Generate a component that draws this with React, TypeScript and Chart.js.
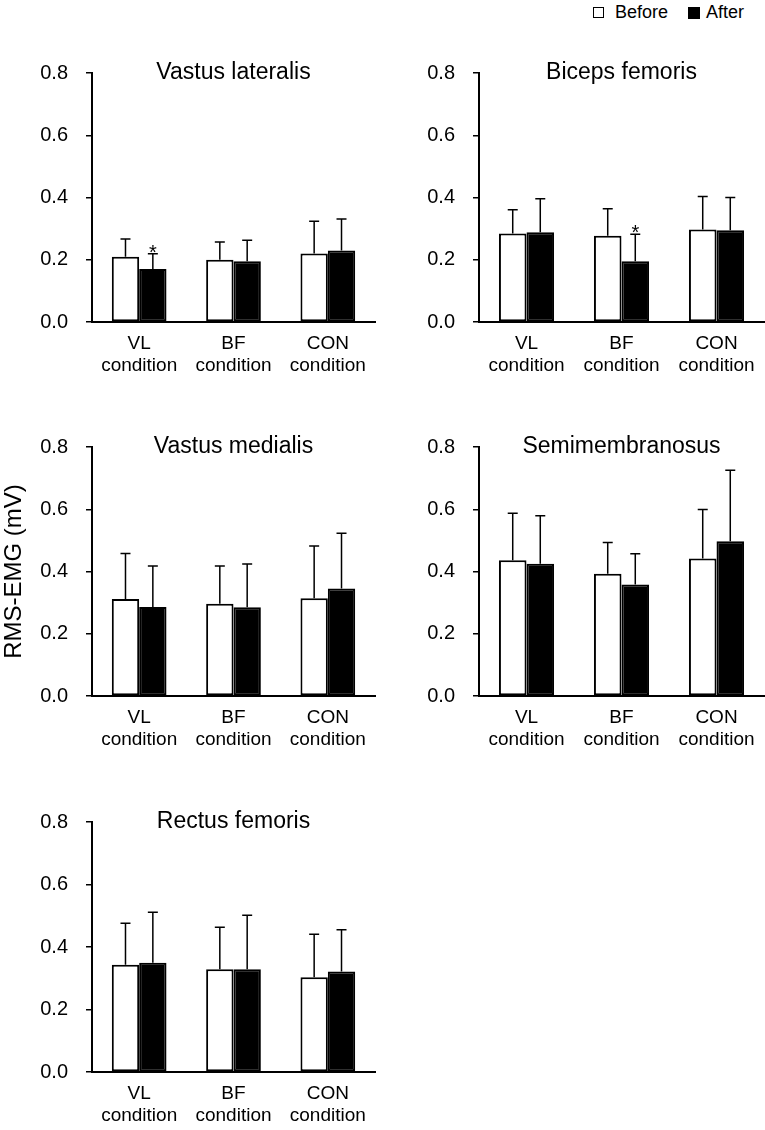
import React, { useEffect, useRef } from 'react';
import { Chart, registerables } from 'chart.js';

Chart.register(...registerables);

const FONT = '"Liberation Sans", Arial, Helvetica, sans-serif';

// ---- data ----
const conditionLabels = [['VL', 'condition'], ['BF', 'condition'], ['CON', 'condition']];
const seriesNames = ['Before', 'After'];
const yAxisTitle = 'RMS-EMG (mV)';
const yMin = 0;
const yMax = 0.8;
const yStep = 0.2;

const panelTitles = ['Vastus lateralis', 'Biceps femoris', 'Vastus medialis', 'Semimembranosus', 'Rectus femoris'];

const vastusLateralisBefore = [0.21, 0.2, 0.22];
const vastusLateralisBeforeSD = [0.057, 0.057, 0.104];
const vastusLateralisAfter = [0.17, 0.195, 0.23];
const vastusLateralisAfterSD = [0.049, 0.068, 0.101];
const vastusLateralisAfterSig = [true, false, false];

const bicepsFemorisBefore = [0.284, 0.277, 0.297];
const bicepsFemorisBeforeSD = [0.077, 0.087, 0.106];
const bicepsFemorisAfter = [0.288, 0.195, 0.295];
const bicepsFemorisAfterSD = [0.108, 0.087, 0.105];
const bicepsFemorisAfterSig = [false, true, false];

const vastusMedialisBefore = [0.312, 0.296, 0.314];
const vastusMedialisBeforeSD = [0.146, 0.122, 0.168];
const vastusMedialisAfter = [0.286, 0.285, 0.345];
const vastusMedialisAfterSD = [0.132, 0.139, 0.178];

const semimembranosusBefore = [0.436, 0.393, 0.442];
const semimembranosusBeforeSD = [0.151, 0.1, 0.157];
const semimembranosusAfter = [0.425, 0.358, 0.497];
const semimembranosusAfterSD = [0.154, 0.099, 0.228];

const rectusFemorisBefore = [0.343, 0.329, 0.303];
const rectusFemorisBeforeSD = [0.133, 0.134, 0.138];
const rectusFemorisAfter = [0.35, 0.329, 0.322];
const rectusFemorisAfterSD = [0.161, 0.173, 0.133];

const noSig = [false, false, false];

// ---- plugins ----
const errorBarPlugin = {
  id: 'errorBars',
  afterDatasetsDraw(chart: any) {
    const ctx = chart.ctx;
    const yScale = chart.scales.y;
    chart.data.datasets.forEach((ds: any, i: number) => {
      const meta = chart.getDatasetMeta(i);
      meta.data.forEach((bar: any, j: number) => {
        const top = yScale.getPixelForValue(ds.data[j] + ds.sd[j]);
        ctx.save();
        ctx.strokeStyle = '#000';
        ctx.lineWidth = 1.5;
        ctx.beginPath();
        ctx.moveTo(bar.x, bar.y);
        ctx.lineTo(bar.x, top);
        ctx.moveTo(bar.x - 5, top);
        ctx.lineTo(bar.x + 5, top);
        ctx.stroke();
        if (ds.sig && ds.sig[j]) {
          ctx.fillStyle = '#000';
          ctx.font = `20px ${FONT}`;
          ctx.textAlign = 'center';
          ctx.textBaseline = 'alphabetic';
          ctx.fillText('*', bar.x, top + 5);
        }
        ctx.restore();
      });
    });
  },
};

const panelTitlePlugin = {
  id: 'panelTitle',
  afterDraw(chart: any, _args: any, opts: any) {
    if (!opts || !opts.text) return;
    const { ctx, chartArea } = chart;
    ctx.save();
    ctx.fillStyle = '#000';
    ctx.font = `23px ${FONT}`;
    ctx.textAlign = 'center';
    ctx.textBaseline = 'alphabetic';
    ctx.fillText(opts.text, (chartArea.left + chartArea.right) / 2, chartArea.top + 6);
    ctx.restore();
  },
};

type PanelProps = {
  title: string;
  before: number[];
  beforeSD: number[];
  after: number[];
  afterSD: number[];
  afterSig: boolean[];
  left: number;
  width: number;
  plotTop: number;
  plotBottom: number;
  padRight: number;
  showYTitle?: boolean;
};

const AXIS_W = 92;
const X_AXIS_H = 60;
const TOP_PAD = 30;

function Panel(p: PanelProps) {
  const ref = useRef<HTMLCanvasElement | null>(null);
  const height = p.plotBottom - p.plotTop + TOP_PAD + X_AXIS_H;
  useEffect(() => {
    if (!ref.current) return;
    const chart = new Chart(ref.current, {
      type: 'bar',
      data: {
        labels: conditionLabels,
        datasets: [
          {
            label: seriesNames[0],
            data: p.before,
            sd: p.beforeSD,
            sig: noSig,
            backgroundColor: '#ffffff',
            borderColor: '#000000',
            borderWidth: 2,
            borderSkipped: false,
          } as any,
          {
            label: seriesNames[1],
            data: p.after,
            sd: p.afterSD,
            sig: p.afterSig,
            backgroundColor: '#000000',
            borderColor: '#000000',
            borderWidth: 2,
            borderSkipped: false,
          } as any,
        ],
      },
      options: {
        animation: false,
        responsive: false,
        devicePixelRatio: 1,
        layout: { padding: { top: TOP_PAD, right: p.padRight, bottom: 0, left: 0 } },
        datasets: { bar: { barPercentage: 1, categoryPercentage: 0.58 } },
        plugins: {
          legend: { display: false },
          tooltip: { enabled: false },
          title: { display: false },
          panelTitle: { text: p.title },
        } as any,
        scales: {
          x: {
            grid: { display: false, drawTicks: false },
            border: { display: true, color: '#000', width: 2 },
            ticks: {
              color: '#000',
              font: { family: FONT, size: 19 },
              padding: 10,
              maxRotation: 0,
              autoSkip: false,
            },
            afterFit(axis: any) {
              axis.height = X_AXIS_H;
            },
          },
          y: {
            min: yMin,
            max: yMax,
            grid: {
              drawOnChartArea: false,
              drawTicks: true,
              tickLength: 6,
              color: '#000',
              lineWidth: 1.5,
            },
            border: { display: true, color: '#000', width: 2 },
            ticks: {
              stepSize: yStep,
              color: '#000',
              padding: 18,
              font: { family: FONT, size: 20 },
              callback: (v: any) => Number(v).toFixed(1),
            },
            title: {
              display: !!p.showYTitle,
              text: yAxisTitle,
              color: '#000',
              font: { family: FONT, size: 24 },
              padding: 0,
            },
            afterFit(axis: any) {
              axis.width = AXIS_W;
            },
          },
        },
      },
      plugins: [errorBarPlugin, panelTitlePlugin],
    });
    return () => chart.destroy();
  }, []);
  return (
    <canvas
      ref={ref}
      width={p.width}
      height={height}
      style={{ position: 'absolute', left: p.left, top: p.plotTop - TOP_PAD, width: p.width, height }}
    />
  );
}

const rowTops = [73, 447, 822];
const rowBottoms = [322, 696, 1072];

export default function App() {
  const textStyle: React.CSSProperties = {
    position: 'absolute',
    top: 2,
    fontFamily: FONT,
    fontSize: 18,
    color: '#000',
    whiteSpace: 'nowrap',
  };
  return (
    <div style={{ position: 'absolute', left: 0, top: 0, width: 765, height: 1130, background: '#fff', overflow: 'hidden' }}>
      <div style={{ position: 'absolute', left: 593, top: 7, width: 9, height: 9, border: '1.5px solid #000', background: '#fff' }} />
      <span style={{ ...textStyle, left: 615 }}>{seriesNames[0]}</span>
      <div style={{ position: 'absolute', left: 688, top: 7, width: 12, height: 12, background: '#000' }} />
      <span style={{ ...textStyle, left: 706 }}>{seriesNames[1]}</span>

      <Panel title={panelTitles[0]} before={vastusLateralisBefore} beforeSD={vastusLateralisBeforeSD}
        after={vastusLateralisAfter} afterSD={vastusLateralisAfterSD} afterSig={vastusLateralisAfterSig}
        left={0} width={380} padRight={5} plotTop={rowTops[0]} plotBottom={rowBottoms[0]} />
      <Panel title={panelTitles[1]} before={bicepsFemorisBefore} beforeSD={bicepsFemorisBeforeSD}
        after={bicepsFemorisAfter} afterSD={bicepsFemorisAfterSD} afterSig={bicepsFemorisAfterSig}
        left={387} width={378} padRight={1} plotTop={rowTops[0]} plotBottom={rowBottoms[0]} />
      <Panel title={panelTitles[2]} before={vastusMedialisBefore} beforeSD={vastusMedialisBeforeSD}
        after={vastusMedialisAfter} afterSD={vastusMedialisAfterSD} afterSig={noSig}
        left={0} width={380} padRight={5} plotTop={rowTops[1]} plotBottom={rowBottoms[1]} showYTitle />
      <Panel title={panelTitles[3]} before={semimembranosusBefore} beforeSD={semimembranosusBeforeSD}
        after={semimembranosusAfter} afterSD={semimembranosusAfterSD} afterSig={noSig}
        left={387} width={378} padRight={1} plotTop={rowTops[1]} plotBottom={rowBottoms[1]} />
      <Panel title={panelTitles[4]} before={rectusFemorisBefore} beforeSD={rectusFemorisBeforeSD}
        after={rectusFemorisAfter} afterSD={rectusFemorisAfterSD} afterSig={noSig}
        left={0} width={380} padRight={5} plotTop={rowTops[2]} plotBottom={rowBottoms[2]} />
    </div>
  );
}
